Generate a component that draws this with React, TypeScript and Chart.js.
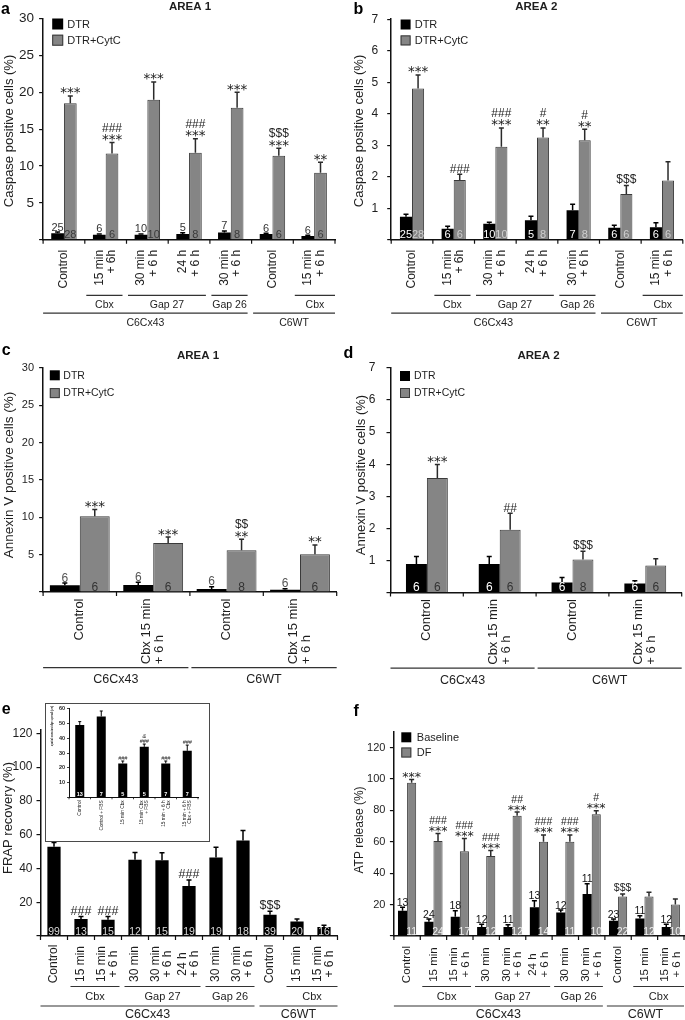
import React, { useEffect, useRef } from "react";
import { Chart, registerables } from "chart.js";

Chart.register(...registerables);

const FONT = "'Liberation Sans', Arial, Helvetica, sans-serif";
const STAR_FONT = "'DejaVu Sans', 'Liberation Sans', sans-serif";
Chart.defaults.font.family = FONT;
Chart.defaults.color = "#1e1e1e";

const TXT = "#1e1e1e";
const AXIS = "#111111";
const BLACK = "#000000";
const GRAY = "#858585";
const GRAY_EDGE = "#3a3a3a";

// ---------------- Panel a (Caspase, AREA 1) ----------------
const abCategories = [["Control"], ["15 min", "+ 6h"], ["30 min", "+ 6 h"], ["24 h", "+ 6 h"], ["30 min", "+ 6 h"], ["Control"], ["15 min", "+ 6 h"]];
const aDTR = [0.9, 0.7, 0.7, 0.8, 1.0, 0.8, 0.5];
const aDTRsem = [0.15, 0.1, 0.1, 0.15, 0.2, 0.1, 0.1];
const aCytC = [18.5, 11.7, 19.0, 11.8, 17.9, 11.4, 9.1];
const aCytCsem = [1.0, 1.5, 2.4, 1.9, 2.1, 1.0, 1.4];
const aDTRn = ["25", "6", "10", "5", "7", "6", "6"];
const aCytCn = ["28", "6", "10", "8", "8", "6", "6"];
const aSig = [["***"], ["###", "***"], ["***"], ["###", "***"], ["***"], ["$$$", "***"], ["**"]];
const abGroups = [
  { label: "Cbx", from: 1, to: 1 },
  { label: "Gap 27", from: 2, to: 3 },
  { label: "Gap 26", from: 4, to: 4 },
  { label: "Cbx", from: 6, to: 6 },
];
const abLines = [
  { label: "C6Cx43", from: 0, to: 4 },
  { label: "C6WT", from: 5, to: 6 },
];

// ---------------- Panel b (Caspase, AREA 2) ----------------
const bDTR = [0.73, 0.35, 0.51, 0.62, 0.94, 0.38, 0.4];
const bDTRsem = [0.08, 0.08, 0.05, 0.13, 0.19, 0.08, 0.14];
const bCytC = [4.8, 1.9, 2.95, 3.25, 3.16, 1.45, 1.88];
const bCytCsem = [0.43, 0.18, 0.6, 0.3, 0.35, 0.27, 0.6];
const bDTRn = ["25", "6", "10", "5", "7", "6", "6"];
const bCytCn = ["28", "6", "10", "8", "8", "6", "6"];
const bSig = [["***"], ["###"], ["###", "***"], ["#", "**"], ["#", "**"], ["$$$"], []];

// ---------------- Panel c (Annexin V, AREA 1) ----------------
const cdCategories = [["Control"], ["Cbx 15 min", "+ 6 h"], ["Control"], ["Cbx 15 min", "+ 6 h"]];
const cDTR = [0.9, 0.95, 0.4, 0.3];
const cDTRsem = [0.3, 0.35, 0.3, 0.15];
const cCytC = [10.15, 6.55, 5.6, 5.05];
const cCytCsem = [0.9, 0.8, 1.45, 1.25];
const cDTRn = ["6", "6", "6", "6"];
const cCytCn = ["6", "6", "8", "6"];
const cSig = [["***"], ["***"], ["$$", "**"], ["**"]];
const cdLines = [
  { label: "C6Cx43", from: 0, to: 1 },
  { label: "C6WT", from: 2, to: 3 },
];

// ---------------- Panel d (Annexin V, AREA 2) ----------------
const dDTR = [0.89, 0.89, 0.31, 0.28];
const dDTRsem = [0.23, 0.23, 0.16, 0.09];
const dCytC = [3.57, 1.96, 1.03, 0.84];
const dCytCsem = [0.42, 0.51, 0.26, 0.21];
const dDTRn = ["6", "6", "6", "6"];
const dCytCn = ["6", "6", "8", "6"];
const dSig = [["***"], ["##"], ["$$$"], []];

// ---------------- Panel e (FRAP) ----------------
const efCategories = [["Control"], ["15 min"], ["15 min", "+ 6 h"], ["30 min"], ["30 min", "+ 6 h"], ["24 h", "+ 6 h"], ["30 min"], ["30 min", "+ 6 h"], ["Control"], ["15 min"], ["15 min", "+ 6 h"]];
const eFRAP = [52.9, 10.0, 9.6, 45.1, 44.8, 29.6, 46.5, 56.5, 12.6, 8.6, 5.4];
const eFRAPsem = [2.4, 1.6, 2.0, 4.4, 4.5, 3.6, 6.0, 6.0, 2.0, 1.4, 1.0];
const eN = ["99", "13", "15", "12", "15", "19", "19", "18", "39", "20", "16"];
const eSig = [[], ["###"], ["###"], [], [], ["###"], [], [], ["$$$"], [], []];
const efGroups = [
  { label: "Cbx", from: 1, to: 2 },
  { label: "Gap 27", from: 3, to: 5 },
  { label: "Gap 26", from: 6, to: 7 },
  { label: "Cbx", from: 9, to: 10 },
];
const efLines = [
  { label: "C6Cx43", from: 0, to: 7 },
  { label: "C6WT", from: 8, to: 10 },
];

// ---------------- Panel e inset (dye spread) ----------------
const insetCategories = [["Control"], ["Control + FBS"], ["15 min Cbx"], ["15 min Cbx", "+ FBS"], ["15 min + 6 h", "Cbx"], ["15 min + 6 h", "Cbx + FBS"]];
const insetDye = [49, 54.8, 23, 34.2, 23, 31.5];
const insetDyeSem = [2.3, 3.7, 1.6, 1.9, 1.6, 3.9];
const insetN = ["13", "7", "5", "5", "7", "7"];
const insetSig = [[], [], ["###"], ["&", "###"], ["###"], ["###"]];

// ---------------- Panel f (ATP release) ----------------
const fBaseline = [16.1, 9.1, 12.2, 5.8, 5.8, 18.3, 15.0, 26.8, 9.7, 11.1, 5.8];
const fBaselineSem = [2.2, 1.7, 3.9, 1.7, 1.3, 4.2, 1.5, 6.4, 1.1, 1.8, 1.7];
const fDF = [97.5, 60.5, 54, 51, 76.5, 60, 60, 77.5, 25.1, 25.1, 20];
const fDFsem = [2.1, 4.8, 8.1, 3.5, 2.4, 4.3, 4.3, 2.2, 1.7, 2.8, 3.6];
const fBaselineN = ["13", "24", "18", "12", "11", "13", "12", "11", "23", "11", "12"];
const fDFn = ["11", "24", "17", "12", "12", "14", "11", "10", "22", "12", "10"];
const fSig = [["***"], ["###", "***"], ["###", "***"], ["###", "***"], ["##", "***"], ["###", "***"], ["###", "***"], ["#", "***"], ["$$$"], [], []];

// ---------------- drawing helpers ----------------
function makeDecor(p: any) {
  return {
    id: "decor",
    beforeDraw(chart: any) {
      if (!p.frame) return;
      const ctx = chart.ctx;
      ctx.save();
      ctx.fillStyle = "#ffffff";
      ctx.fillRect(0, 0, chart.width, chart.height);
      ctx.strokeStyle = "#4a4a4a";
      ctx.lineWidth = 1;
      ctx.strokeRect(0.5, 0.5, chart.width - 1, chart.height - 1);
      ctx.restore();
    },
    afterDraw(chart: any) {
      const ctx = chart.ctx;
      const ca = chart.chartArea;
      const ys = chart.scales.y;
      const nCat = p.categories.length;
      const cw = (ca.right - ca.left) / nCat;
      ctx.save();

      // x tick marks at category boundaries
      ctx.strokeStyle = AXIS;
      ctx.lineWidth = p.tickW || 1.2;
      ctx.beginPath();
      for (let i = 0; i <= nCat; i++) {
        const x = ca.left + i * cw;
        ctx.moveTo(x, ca.bottom);
        ctx.lineTo(x, ca.bottom + p.tickLen);
      }
      ctx.stroke();

      // error bars and n labels
      p.series.forEach((s: any, di: number) => {
        const meta = chart.getDatasetMeta(di);
        meta.data.forEach((el: any, i: number) => {
          const v = s.data[i];
          const e = s.sem[i] || 0;
          const yTop = ys.getPixelForValue(v + e);
          const yBar = ys.getPixelForValue(v);
          if (e > 0) {
            ctx.strokeStyle = s.errColor;
            ctx.lineWidth = p.errW;
            ctx.beginPath();
            ctx.moveTo(el.x, yBar);
            ctx.lineTo(el.x, yTop);
            ctx.moveTo(el.x - p.capW, yTop);
            ctx.lineTo(el.x + p.capW, yTop);
            ctx.stroke();
          }
          const lbl = s.n[i];
          if (lbl) {
            ctx.font = `${p.nBold ? "bold " : ""}${p.nSize}px ${FONT}`;
            ctx.fillStyle = s.nColor;
            ctx.textAlign = "center";
            ctx.textBaseline = "alphabetic";
            const y = s.nPos === "above" ? yTop - 1.5 : ca.bottom - 1.5;
            ctx.fillText(lbl, el.x, y);
          }
        });
      });

      // significance marks
      const sd = p.series[p.sigDs];
      const smeta = chart.getDatasetMeta(p.sigDs);
      p.sig.forEach((lines: string[], i: number) => {
        if (!lines || !lines.length) return;
        const el = smeta.data[i];
        const top = ys.getPixelForValue(sd.data[i] + (sd.sem[i] || 0));
        let cursor = top - 1.5;
        for (let k = lines.length - 1; k >= 0; k--) {
          const s = lines[k];
          const star = s.indexOf("*") >= 0;
          ctx.font = star ? `${p.starSize}px ${STAR_FONT}` : `${p.sigItalic ? "italic " : ""}${p.sigSize}px ${FONT}`;
          ctx.fillStyle = TXT;
          ctx.textAlign = "center";
          ctx.textBaseline = "alphabetic";
          const m = ctx.measureText(s);
          const asc = m.actualBoundingBoxAscent;
          const desc = m.actualBoundingBoxDescent;
          const baseline = cursor - desc;
          ctx.fillText(s, el.x, baseline);
          cursor = baseline - asc - p.sigLineGap;
        }
      });

      // x category labels, rotated
      ctx.font = `${p.xBold ? "bold " : ""}${p.xFont}px ${FONT}`;
      ctx.fillStyle = TXT;
      ctx.textBaseline = "middle";
      p.categories.forEach((lines: string[], i: number) => {
        const px = ca.left + (i + 0.5) * cw;
        const n = lines.length;
        const maxW = Math.max(...lines.map((s) => ctx.measureText(s).width));
        ctx.save();
        ctx.translate(px, ca.bottom);
        ctx.rotate(-Math.PI / 2);
        lines.forEach((s, j) => {
          const ry = (j - (n - 1) / 2) * p.xLH;
          if (p.xAlign === "end") {
            ctx.textAlign = "right";
            ctx.fillText(s, -p.xOffset, ry);
          } else if (p.xAlign === "start") {
            ctx.textAlign = "left";
            ctx.fillText(s, -(p.xOffset + maxW), ry);
          } else {
            ctx.textAlign = "center";
            ctx.fillText(s, -p.xOffset, ry);
          }
        });
        ctx.restore();
      });

      // group brackets
      const drawGroup = (items: any[], row: number[], size: number) => {
        items.forEach((g) => {
          const x1 = ca.left + g.from * cw + (g.from === 0 ? 0 : p.gapL);
          const x2 = ca.left + (g.to + 1) * cw - (g.to === nCat - 1 ? 0 : p.gapR);
          const yl = ca.bottom + row[0];
          ctx.strokeStyle = "#333333";
          ctx.lineWidth = 1.2;
          ctx.beginPath();
          ctx.moveTo(x1, yl);
          ctx.lineTo(x2, yl);
          ctx.stroke();
          ctx.font = `${size}px ${FONT}`;
          ctx.fillStyle = TXT;
          ctx.textAlign = "center";
          ctx.textBaseline = "middle";
          ctx.fillText(g.label, (x1 + x2) / 2, ca.bottom + row[1]);
        });
      };
      if (p.groups && p.groups.length) drawGroup(p.groups, p.gRow, p.gFont);
      if (p.lines && p.lines.length) drawGroup(p.lines, p.lRow, p.lFont);

      // legend
      if (p.legend) {
        const L = p.legend;
        p.series.forEach((s: any, k: number) => {
          const y = L.y + k * L.dy;
          ctx.fillStyle = s.fill;
          ctx.fillRect(L.x, y, L.box, L.box);
          if (s.borderW) {
            ctx.strokeStyle = s.border;
            ctx.lineWidth = 1;
            ctx.strokeRect(L.x + 0.5, y + 0.5, L.box - 1, L.box - 1);
          }
          ctx.fillStyle = TXT;
          ctx.font = `${L.font}px ${FONT}`;
          ctx.textAlign = "left";
          ctx.textBaseline = "middle";
          ctx.fillText(s.label, L.tx, y + L.box / 2 + 0.5);
        });
      }

      // panel title
      if (p.title) {
        ctx.font = `bold ${p.title.size}px ${FONT}`;
        ctx.fillStyle = TXT;
        ctx.textAlign = "center";
        ctx.textBaseline = "middle";
        ctx.fillText(p.title.text, p.title.x, p.title.y);
      }
      // panel letter
      if (p.letter) {
        ctx.font = `bold ${p.letter.size}px ${FONT}`;
        ctx.fillStyle = "#000";
        ctx.textAlign = "left";
        ctx.textBaseline = "alphabetic";
        ctx.fillText(p.letter.text, p.letter.x, p.letter.y);
      }
      // y axis title
      if (p.yTitle) {
        ctx.save();
        ctx.translate(p.yTitle.x, p.yTitle.y);
        ctx.rotate(-Math.PI / 2);
        ctx.font = `${p.yTitle.bold ? "bold " : ""}${p.yTitle.size}px ${FONT}`;
        ctx.fillStyle = TXT;
        ctx.textAlign = "center";
        ctx.textBaseline = "middle";
        ctx.fillText(p.yTitle.text, 0, 0);
        ctx.restore();
      }
      ctx.restore();
    },
  };
}

function makeConfig(p: any) {
  return {
    type: "bar",
    data: {
      labels: p.categories.map((c: string[]) => c.join(" ")),
      datasets: p.series.map((s: any) => ({
        label: s.label,
        data: s.data,
        backgroundColor: s.fill,
        borderColor: s.border,
        borderWidth: s.borderW,
        barPercentage: 1,
        categoryPercentage: p.catPct,
      })),
    },
    options: {
      animation: false,
      responsive: false,
      maintainAspectRatio: false,
      devicePixelRatio: 1,
      events: [],
      layout: { padding: { left: 0, top: p.ca.t, right: p.W - p.ca.r, bottom: 0 } },
      plugins: { legend: { display: false }, tooltip: { enabled: false }, title: { display: false } },
      scales: {
        x: {
          type: "category",
          offset: true,
          grid: { display: false },
          ticks: { display: false },
          border: { display: true, color: AXIS, width: p.axisW || 1.5 },
          afterFit: (s: any) => {
            s.height = p.H - p.ca.b;
            s.paddingLeft = 0;
            s.paddingRight = 0;
          },
        },
        y: {
          min: 0,
          max: p.yMax,
          ticks: {
            stepSize: p.yStep,
            includeBounds: false,
            padding: p.yTickPad,
            color: TXT,
            font: { size: p.yTickSize, weight: p.yTickBold ? "bold" : "normal" },
            callback: (v: any) => (v === 0 || Math.abs(v % p.yStep) > 1e-6 ? "" : String(v)),
          },
          grid: { drawOnChartArea: false, drawTicks: true, tickLength: p.tickLen, color: AXIS, lineWidth: p.tickW || 1.2 },
          border: { display: true, color: AXIS, width: p.axisW || 1.5 },
          afterFit: (s: any) => {
            s.width = p.ca.l;
            s.paddingTop = 0;
            s.paddingBottom = 0;
          },
        },
      },
    },
    plugins: [makeDecor(p)],
  };
}

const common = { errW: 1.5, capW: 2.5, tickLen: 4, sigLineGap: 2 };

const specA = {
  ...common,
  W: 342, H: 335, ca: { l: 43.1, r: 335, t: 18.5, b: 239.8 },
  yMax: 30, yStep: 5, yTickSize: 13.5, yTickPad: 5, catPct: 0.61,
  categories: abCategories,
  series: [
    { label: "DTR", data: aDTR, sem: aDTRsem, n: aDTRn, fill: BLACK, border: BLACK, borderW: 0, errColor: "#000", nPos: "above", nColor: "#333" },
    { label: "DTR+CytC", data: aCytC, sem: aCytCsem, n: aCytCn, fill: GRAY, border: GRAY_EDGE, borderW: 1, errColor: "#2a2a2a", nPos: "bottom", nColor: "#3a3a3a" },
  ],
  sig: aSig, sigDs: 1, sigSize: 12, starSize: 13.5, nSize: 11,
  xFont: 12, xAlign: "end", xOffset: 10, xLH: 12.7,
  groups: abGroups, lines: abLines, gRow: [55.6, 65.7], lRow: [73.4, 83.2], gFont: 10.5, lFont: 10.5, gapL: 1.5, gapR: 4,
  legend: { x: 52.2, y: 18.5, dy: 16.2, box: 11, tx: 67.3, font: 11 },
  title: { text: "AREA 1", x: 190, y: 7.2, size: 11.5 },
  letter: { text: "a", x: 1, y: 13.5, size: 16 },
  yTitle: { text: "Caspase positive cells (%)", x: 9, y: 131, size: 13 },
};

const specB = {
  ...common,
  W: 343, H: 335, ca: { l: 49.2, r: 340.8, t: 19.2, b: 239.8 },
  yMax: 7, yStep: 1, yTickSize: 12, yTickPad: 9, catPct: 0.58,
  categories: abCategories,
  series: [
    { label: "DTR", data: bDTR, sem: bDTRsem, n: bDTRn, fill: BLACK, border: BLACK, borderW: 0, errColor: "#000", nPos: "bottom", nColor: "#ffffff" },
    { label: "DTR+CytC", data: bCytC, sem: bCytCsem, n: bCytCn, fill: GRAY, border: GRAY_EDGE, borderW: 1, errColor: "#2a2a2a", nPos: "bottom", nColor: "#cfcfcf" },
  ],
  sig: bSig, sigDs: 1, sigSize: 12, starSize: 13.5, nSize: 11,
  xFont: 12, xAlign: "end", xOffset: 10, xLH: 12.7,
  groups: abGroups, lines: abLines, gRow: [55.6, 65.7], lRow: [73.4, 83.2], gFont: 10.5, lFont: 11, gapL: 1.5, gapR: 4,
  legend: { x: 58.6, y: 19.5, dy: 15.9, box: 10, tx: 72.7, font: 11 },
  title: { text: "AREA 2", x: 194.3, y: 7.2, size: 11.5 },
  letter: { text: "b", x: 11.5, y: 13.5, size: 16 },
  yTitle: { text: "Caspase positive cells (%)", x: 17.4, y: 131, size: 13 },
};

const specC = {
  ...common,
  W: 342, H: 355, ca: { l: 43.1, r: 336.7, t: 33, b: 257 },
  yMax: 30, yStep: 5, yTickSize: 11, yTickPad: 5, catPct: 0.815,
  categories: cdCategories,
  series: [
    { label: "DTR", data: cDTR, sem: cDTRsem, n: cDTRn, fill: BLACK, border: BLACK, borderW: 0, errColor: "#000", nPos: "above", nColor: "#555" },
    { label: "DTR+CytC", data: cCytC, sem: cCytCsem, n: cCytCn, fill: GRAY, border: GRAY_EDGE, borderW: 1, errColor: "#2a2a2a", nPos: "bottom", nColor: "#333" },
  ],
  sig: cSig, sigDs: 1, sigSize: 12, starSize: 13.5, nSize: 12,
  xFont: 13, xAlign: "start", xOffset: 6.5, xLH: 13,
  groups: [], lines: cdLines, gRow: [0, 0], lRow: [75.7, 88], gFont: 12, lFont: 12.5, gapL: 1.5, gapR: 1.5,
  legend: { x: 49.8, y: 35.3, dy: 17.8, box: 10, tx: 63.3, font: 10.5 },
  title: { text: "AREA 1", x: 198, y: 20.6, size: 11.5 },
  letter: { text: "c", x: 1.7, y: 20.2, size: 16 },
  yTitle: { text: "Annexin V positive cells (%)", x: 9.3, y: 140, size: 13.5 },
};

const specD = {
  ...common,
  W: 343, H: 355, ca: { l: 48.5, r: 339.7, t: 33, b: 257.5 },
  yMax: 7, yStep: 1, yTickSize: 12, yTickPad: 11, catPct: 0.575,
  categories: cdCategories,
  series: [
    { label: "DTR", data: dDTR, sem: dDTRsem, n: dDTRn, fill: BLACK, border: BLACK, borderW: 0, errColor: "#000", nPos: "bottom", nColor: "#ffffff" },
    { label: "DTR+CytC", data: dCytC, sem: dCytCsem, n: dCytCn, fill: GRAY, border: GRAY_EDGE, borderW: 1, errColor: "#2a2a2a", nPos: "bottom", nColor: "#333" },
  ],
  sig: dSig, sigDs: 1, sigSize: 12, starSize: 13.5, nSize: 12,
  xFont: 13, xAlign: "start", xOffset: 6.5, xLH: 13,
  groups: [], lines: cdLines, gRow: [0, 0], lRow: [75.7, 88], gFont: 12, lFont: 12.5, gapL: 1.5, gapR: 1.5,
  legend: { x: 58, y: 36, dy: 17, box: 10, tx: 72, font: 10.5 },
  title: { text: "AREA 2", x: 196.6, y: 20.6, size: 11.5 },
  letter: { text: "d", x: 1.4, y: 23, size: 16 },
  yTitle: { text: "Annexin V positive cells (%)", x: 19, y: 140, size: 13 },
};

const specE = {
  ...common,
  W: 342, H: 330, ca: { l: 40.5, r: 337.5, t: 40, b: 246 },
  yMax: 122, yStep: 20, yTickSize: 12, yTickPad: 4, catPct: 0.49,
  categories: efCategories,
  series: [
    { label: "FRAP", data: eFRAP, sem: eFRAPsem, n: eN, fill: BLACK, border: BLACK, borderW: 0, errColor: "#000", nPos: "bottom", nColor: "#d8d8d8" },
  ],
  sig: eSig, sigDs: 0, sigSize: 12.5, starSize: 13, nSize: 10.5,
  xFont: 12, xAlign: "center", xOffset: 28, xLH: 12,
  groups: efGroups, lines: efLines, gRow: [50.5, 60.5], lRow: [70, 78.8], gFont: 11, lFont: 12.5, gapL: 3, gapR: 2,
  letter: { text: "e", x: 1.7, y: 23.8, size: 16 },
  yTitle: { text: "FRAP recovery (%)", x: 8.5, y: 128, size: 13 },
};

const specInset = {
  W: 165, H: 139, ca: { l: 24, r: 153, t: 5.8, b: 94.3 },
  yMax: 60, yStep: 10, yTickSize: 5.5, yTickBold: true, yTickPad: 2, catPct: 0.42,
  errW: 1, capW: 1.5, tickLen: 2, tickW: 0.8, axisW: 1, sigLineGap: 1,
  categories: insetCategories,
  series: [
    { label: "", data: insetDye, sem: insetDyeSem, n: insetN, fill: BLACK, border: BLACK, borderW: 0, errColor: "#000", nPos: "bottom", nColor: "#ffffff" },
  ],
  sig: insetSig, sigDs: 0, sigSize: 5.5, sigItalic: true, starSize: 5.5, nSize: 5.5, nBold: true,
  xFont: 4.8, xAlign: "end", xOffset: 3, xLH: 5,
  groups: [], lines: [], gRow: [0, 0], lRow: [0, 0], gFont: 5, lFont: 5, gapL: 1, gapR: 1,
  yTitle: { text: "spatial constant dye spread (µm)", x: 7, y: 23, size: 2.6, bold: true },
  frame: true,
};

const specF = {
  ...common,
  W: 343, H: 330, ca: { l: 51.9, r: 342, t: 41.8, b: 246 },
  yMax: 130, yStep: 20, yTickSize: 11, yTickPad: 4.5, catPct: 0.69,
  categories: efCategories,
  series: [
    { label: "Baseline", data: fBaseline, sem: fBaselineSem, n: fBaselineN, fill: BLACK, border: BLACK, borderW: 0, errColor: "#000", nPos: "above", nColor: "#111" },
    { label: "DF", data: fDF, sem: fDFsem, n: fDFn, fill: GRAY, border: GRAY_EDGE, borderW: 1, errColor: "#2a2a2a", nPos: "bottom", nColor: "#f0f0f0" },
  ],
  sig: fSig, sigDs: 1, sigSize: 10.5, starSize: 12.5, nSize: 10.5,
  xFont: 11.5, xAlign: "center", xOffset: 28.6, xLH: 11.5,
  groups: efGroups, lines: efLines, gRow: [50.5, 60.5], lRow: [70, 78.8], gFont: 11, lFont: 12.5, gapL: 2, gapR: 2,
  legend: { x: 59.3, y: 42.3, dy: 15.2, box: 10, tx: 74.8, font: 11 },
  letter: { text: "f", x: 11.5, y: 25.5, size: 16 },
  yTitle: { text: "ATP release (%)", x: 18, y: 140, size: 12 },
};

function Panel({ spec, left, top }: { spec: any; left: number; top: number }) {
  const ref = useRef<HTMLCanvasElement | null>(null);
  useEffect(() => {
    if (!ref.current) return;
    const chart = new Chart(ref.current, makeConfig(spec) as any);
    return () => chart.destroy();
  }, [spec]);
  return (
    <canvas
      ref={ref}
      width={spec.W}
      height={spec.H}
      style={{ position: "absolute", left, top, width: spec.W, height: spec.H }}
    />
  );
}

export default function App() {
  return (
    <div style={{ position: "absolute", left: 0, top: 0, width: 685, height: 1020, background: "#ffffff", overflow: "hidden" }}>
      <Panel spec={specA} left={0} top={0} />
      <Panel spec={specB} left={342} top={0} />
      <Panel spec={specC} left={0} top={335} />
      <Panel spec={specD} left={342} top={335} />
      <Panel spec={specE} left={0} top={690} />
      <Panel spec={specF} left={342} top={690} />
      <Panel spec={specInset} left={45} top={703} />
    </div>
  );
}
